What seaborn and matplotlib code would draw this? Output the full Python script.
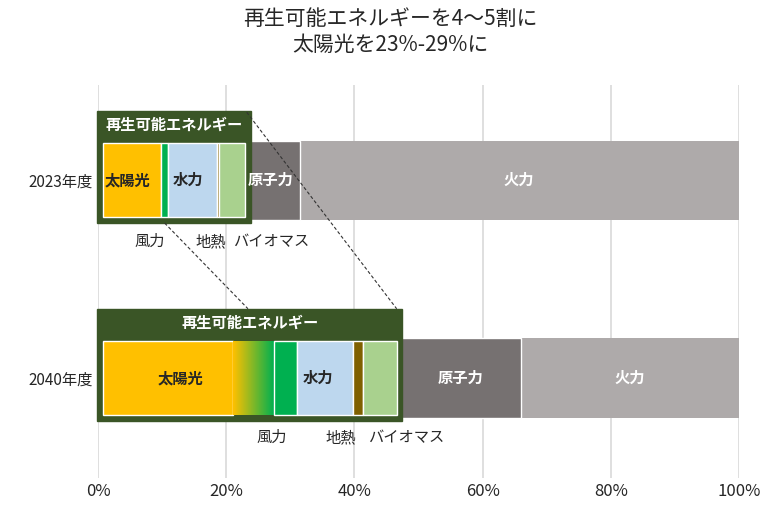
import matplotlib
matplotlib.use("Agg")
import matplotlib.pyplot as plt
import matplotlib.patches as mp
from matplotlib import font_manager as fm
from matplotlib.colors import LinearSegmentedColormap
import numpy as np
import pandas as pd
import seaborn as sns

fam = "Noto Sans CJK JP"
for f in fm.findSystemFonts():
    if "CJK" in f and ("Regular" in f or "Bold" in f or f.endswith(".ttc")):
        try:
            fm.fontManager.addfont(f)
        except Exception:
            pass
names = {f.name for f in fm.fontManager.ttflist}
if fam not in names:
    cands = [n for n in names if "CJK" in n]
    if cands:
        fam = sorted(cands, key=lambda n: ("JP" not in n, n))[0]

years = ["2023年度", "2040年度"]
solar = [9.9, 21.1]
transition = [0.0, 6.3]   # solar/wind overlap range (gradient)
wind = [1.1, 3.6]
hydro = [7.6, 8.8]
geo = [0.3, 1.5]
bio = [4.1, 5.3]
nuclear = [8.5, 19.4]
fire = [68.5, 34.0]
xticks = [0, 20, 40, 60, 80, 100]
xticklabels = ["0%", "20%", "40%", "60%", "80%", "100%"]
title = "再生可能エネルギーを4～5割に\n太陽光を23%-29%に"

C = dict(solar="#FFC000", wind="#00B050", hydro="#BDD7EE", geo="#7F6000",
         bio="#A9D18E", nuc="#767171", fire="#AEAAAA", box="#3A5526")

sns.set_style("white")
plt.rcParams["font.family"] = [fam, "DejaVu Sans"]

fig = plt.figure(figsize=(7.8, 5.22), dpi=100)
ax = fig.add_axes([0.1256, 0.0843, 0.8218, 0.7527])

total = [100.0] * 2
df = pd.DataFrame({"year": years, "total": total})
sns.barplot(data=df, x="total", y="year", color=C["fire"], width=0.4,
            orient="h", ax=ax, zorder=2, saturation=1, linewidth=0)

ax.set_xticks(xticks)
ax.set_xticklabels(xticklabels, fontsize=12)
ax.tick_params(axis="y", labelsize=11, length=0)
ax.tick_params(axis="x", length=0)
ax.set_xlabel(""); ax.set_ylabel("")
for s in ax.spines.values():
    s.set_visible(False)
ax.xaxis.grid(True, color="#D9D9D9", lw=1.2, zorder=0)
ax.set_axisbelow(True)

inner_start = 0.8
box_pad_r = 0.8
for i in range(2):
    ren = solar[i] + transition[i] + wind[i] + hydro[i] + geo[i] + bio[i]
    ax.barh(i, nuclear[i], left=ren, height=0.4, color=C["nuc"], zorder=3)
    top = i - 0.35
    ax.add_patch(mp.Rectangle((-0.15, top), ren + box_pad_r + 0.15, 0.565,
                              color=C["box"], zorder=4, clip_on=False))
    h = 0.37
    ax.barh(i, solar[i] - inner_start, left=inner_start, height=h, color=C["solar"], zorder=5)
    x = solar[i]
    if transition[i] > 0:
        cmap = LinearSegmentedColormap.from_list("g", [C["solar"], C["wind"]])
        ax.imshow(np.linspace(0, 1, 200).reshape(1, -1), cmap=cmap, aspect="auto",
                  extent=(x, x + transition[i], i + h / 2, i - h / 2), zorder=5)
        x += transition[i]
    for val, key in [(wind[i], "wind"), (hydro[i], "hydro"), (geo[i], "geo"), (bio[i], "bio")]:
        ax.barh(i, val, left=x, height=h, color=C[key], zorder=5)
        x += val
    ax.text((ren + box_pad_r) / 2, i - 0.28, "再生可能エネルギー", color="white",
            fontsize=11, fontweight="bold", ha="center", va="center", zorder=6)

ax.set_ylim(1.505, -0.48)
ax.set_xlim(0, 100)

ax.text(1.0, 0, "太陽光", fontsize=11, fontweight="bold", va="center", zorder=7)
ax.text(11.6, 0, "水力", fontsize=11, fontweight="bold", va="center", zorder=7)
ax.text(27.0, 0, "原子力", fontsize=11, fontweight="bold", color="white", ha="center", va="center", zorder=7)
ax.text(65.7, 0, "火力", fontsize=11, fontweight="bold", color="white", ha="center", va="center", zorder=7)
ax.text(12.8, 1, "太陽光", fontsize=11, fontweight="bold", ha="center", va="center", zorder=7)
ax.text(34.3, 1, "水力", fontsize=11, fontweight="bold", ha="center", va="center", zorder=7)
ax.text(56.5, 1, "原子力", fontsize=11, fontweight="bold", color="white", ha="center", va="center", zorder=7)
ax.text(83.0, 1, "火力", fontsize=11, fontweight="bold", color="white", ha="center", va="center", zorder=7)

for (xx, yy, t) in [(8.1, 0.31, "風力"), (17.6, 0.31, "地熱"), (27.0, 0.31, "バイオマス"),
                    (27.1, 1.30, "風力"), (37.9, 1.30, "地熱"), (48.0, 1.30, "バイオマス")]:
    ax.text(xx, yy, t, fontsize=11, ha="center", va="center")

ax.plot([10.4, 23.4], [0.217, 0.65], ls=(0, (3, 2)), color="#333333", lw=0.8, zorder=8)
ax.plot([23.2, 46.6], [-0.343, 0.65], ls=(0, (3, 2)), color="#333333", lw=0.8, zorder=8)

fig.suptitle(title, fontsize=15, y=0.985, linespacing=1.25)
fig.savefig("out.png", dpi=100)
